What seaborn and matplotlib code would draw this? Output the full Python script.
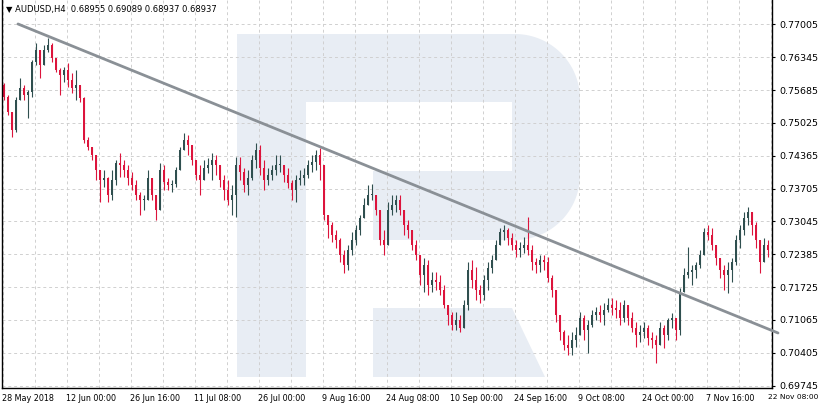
import numpy as np
import pandas as pd
import matplotlib
matplotlib.use("Agg")
import matplotlib.pyplot as plt
from matplotlib.patches import Polygon
import seaborn as sns

# ---------------- data ----------------
title_text = "\u25bc AUDUSD,H4  0.68955 0.69089 0.68937 0.68937"
bars_per_candle = 4
first_open = 0.7579

highs = [
    0.7583, 0.7559, 0.7518, 0.7555, 0.7593, 0.7579, 0.7569, 0.7629, 0.7663, 0.7649,
    0.7659, 0.7673, 0.7663, 0.7629, 0.7613, 0.7615, 0.7623, 0.7603, 0.7609, 0.7573,
    0.7555, 0.7474, 0.7454, 0.7438, 0.7408, 0.7408, 0.7394, 0.7408, 0.7428, 0.7442,
    0.7428, 0.7418, 0.7404, 0.7388, 0.7364, 0.7358, 0.7408, 0.7388, 0.7358, 0.7422,
    0.7418, 0.7392, 0.7388, 0.7414, 0.7454, 0.7482, 0.7478, 0.7454, 0.7428, 0.7418,
    0.7428, 0.7432, 0.7442, 0.7438, 0.7418, 0.7398, 0.7388, 0.7378, 0.7434, 0.7434,
    0.7412, 0.7408, 0.7438, 0.7462, 0.7458, 0.7428, 0.7412, 0.7418, 0.7438, 0.7438,
    0.7418, 0.7412, 0.7388, 0.7398, 0.7408, 0.7412, 0.7428, 0.7438, 0.7448, 0.7452,
    0.7418, 0.7318, 0.7304, 0.7287, 0.7271, 0.7247, 0.7257, 0.7283, 0.7297, 0.7318,
    0.7352, 0.7378, 0.7380, 0.7358, 0.7328, 0.7287, 0.7344, 0.7358, 0.7358, 0.7358,
    0.7318, 0.7308, 0.7287, 0.7267, 0.7237, 0.7231, 0.7227, 0.7203, 0.7203, 0.7197,
    0.7177, 0.7137, 0.7123, 0.7123, 0.7117, 0.7147, 0.7223, 0.7227, 0.7213, 0.7177,
    0.7197, 0.7223, 0.7237, 0.7267, 0.7291, 0.7297, 0.7291, 0.7281, 0.7267, 0.7263,
    0.7273, 0.7314, 0.7257, 0.7231, 0.7237, 0.7237, 0.7233, 0.7197, 0.7167, 0.7111,
    0.7086, 0.7076, 0.7082, 0.7092, 0.7123, 0.7117, 0.7107, 0.7127, 0.7133, 0.7137,
    0.7141, 0.7151, 0.7151, 0.7147, 0.7143, 0.7147, 0.7137, 0.7123, 0.7103, 0.7096,
    0.7103, 0.7096, 0.7082, 0.7076, 0.7103, 0.7096, 0.7111, 0.7121, 0.7107, 0.7171,
    0.7211, 0.7253, 0.7217, 0.7223, 0.7247, 0.7291, 0.7297, 0.7291, 0.7257, 0.7231,
    0.7217, 0.7223, 0.7231, 0.7277, 0.7297, 0.7324, 0.7334, 0.7324, 0.7304, 0.7257,
    0.7271, 0.7267,
]

lows = [
    0.7549, 0.7518, 0.7474, 0.7484, 0.7549, 0.7549, 0.7512, 0.7555, 0.7619, 0.7593,
    0.7619, 0.7645, 0.7625, 0.7605, 0.7559, 0.7585, 0.7575, 0.7563, 0.7549, 0.7545,
    0.7462, 0.7448, 0.7428, 0.7388, 0.7344, 0.7374, 0.7344, 0.7348, 0.7378, 0.7394,
    0.7394, 0.7378, 0.7368, 0.7348, 0.7318, 0.7328, 0.7362, 0.7348, 0.7308, 0.7338,
    0.7368, 0.7368, 0.7364, 0.7374, 0.7408, 0.7448, 0.7438, 0.7418, 0.7388, 0.7358,
    0.7394, 0.7402, 0.7388, 0.7398, 0.7374, 0.7348, 0.7338, 0.7318, 0.7314, 0.7388,
    0.7364, 0.7358, 0.7388, 0.7412, 0.7398, 0.7368, 0.7378, 0.7388, 0.7398, 0.7404,
    0.7384, 0.7372, 0.7348, 0.7344, 0.7378, 0.7378, 0.7392, 0.7404, 0.7408, 0.7388,
    0.7308, 0.7271, 0.7263, 0.7251, 0.7223, 0.7201, 0.7207, 0.7237, 0.7257, 0.7277,
    0.7312, 0.7338, 0.7348, 0.7318, 0.7257, 0.7237, 0.7267, 0.7318, 0.7324, 0.7318,
    0.7277, 0.7271, 0.7247, 0.7227, 0.7177, 0.7163, 0.7157, 0.7163, 0.7167, 0.7157,
    0.7131, 0.7096, 0.7086, 0.7086, 0.7082, 0.7090, 0.7127, 0.7171, 0.7147, 0.7141,
    0.7147, 0.7167, 0.7201, 0.7227, 0.7257, 0.7267, 0.7257, 0.7247, 0.7233, 0.7233,
    0.7241, 0.7237, 0.7207, 0.7201, 0.7203, 0.7207, 0.7183, 0.7153, 0.7103, 0.7066,
    0.7046, 0.7036, 0.7036, 0.7052, 0.7076, 0.7066, 0.7040, 0.7092, 0.7107, 0.7103,
    0.7096, 0.7123, 0.7117, 0.7111, 0.7096, 0.7103, 0.7096, 0.7082, 0.7052, 0.7062,
    0.7070, 0.7056, 0.7050, 0.7020, 0.7056, 0.7050, 0.7066, 0.7090, 0.7066, 0.7076,
    0.7163, 0.7191, 0.7177, 0.7191, 0.7211, 0.7237, 0.7267, 0.7247, 0.7217, 0.7191,
    0.7167, 0.7161, 0.7183, 0.7217, 0.7251, 0.7277, 0.7297, 0.7277, 0.7251, 0.7201,
    0.7223, 0.7233,
]

closes = [
    0.7555, 0.7525, 0.7488, 0.7549, 0.7573, 0.7559, 0.7565, 0.7625, 0.7649, 0.7619,
    0.7649, 0.7659, 0.7633, 0.7609, 0.7599, 0.7609, 0.7589, 0.7573, 0.7579, 0.7553,
    0.7468, 0.7454, 0.7438, 0.7408, 0.7388, 0.7392, 0.7358, 0.7388, 0.7422, 0.7418,
    0.7408, 0.7392, 0.7378, 0.7358, 0.7348, 0.7348, 0.7392, 0.7358, 0.7328, 0.7408,
    0.7384, 0.7378, 0.7380, 0.7408, 0.7448, 0.7468, 0.7458, 0.7428, 0.7398, 0.7388,
    0.7412, 0.7418, 0.7428, 0.7418, 0.7388, 0.7368, 0.7348, 0.7358, 0.7418, 0.7404,
    0.7378, 0.7392, 0.7428, 0.7448, 0.7412, 0.7388, 0.7398, 0.7408, 0.7418, 0.7418,
    0.7398, 0.7382, 0.7368, 0.7388, 0.7392, 0.7398, 0.7418, 0.7424, 0.7438, 0.7418,
    0.7318, 0.7297, 0.7277, 0.7267, 0.7237, 0.7217, 0.7247, 0.7267, 0.7287, 0.7312,
    0.7338, 0.7358, 0.7358, 0.7328, 0.7267, 0.7257, 0.7328, 0.7338, 0.7348, 0.7328,
    0.7297, 0.7287, 0.7257, 0.7237, 0.7197, 0.7217, 0.7177, 0.7187, 0.7183, 0.7167,
    0.7137, 0.7117, 0.7096, 0.7107, 0.7090, 0.7137, 0.7207, 0.7187, 0.7167, 0.7157,
    0.7187, 0.7211, 0.7227, 0.7257, 0.7283, 0.7287, 0.7271, 0.7257, 0.7247, 0.7251,
    0.7257, 0.7247, 0.7223, 0.7217, 0.7227, 0.7223, 0.7191, 0.7167, 0.7117, 0.7082,
    0.7056, 0.7050, 0.7066, 0.7076, 0.7111, 0.7086, 0.7096, 0.7117, 0.7123, 0.7117,
    0.7127, 0.7137, 0.7131, 0.7127, 0.7111, 0.7137, 0.7111, 0.7090, 0.7076, 0.7082,
    0.7090, 0.7070, 0.7066, 0.7056, 0.7090, 0.7076, 0.7107, 0.7111, 0.7086, 0.7163,
    0.7197, 0.7203, 0.7207, 0.7217, 0.7237, 0.7283, 0.7277, 0.7257, 0.7231, 0.7207,
    0.7197, 0.7207, 0.7223, 0.7267, 0.7287, 0.7312, 0.7324, 0.7297, 0.7267, 0.7223,
    0.7257, 0.7247,
]

x_tick_labels = ["28 May 2018", "12 Jun 00:00", "26 Jun 16:00", "11 Jul 08:00",
                 "26 Jul 00:00", "9 Aug 16:00", "24 Aug 08:00", "10 Sep 00:00",
                 "24 Sep 16:00", "9 Oct 08:00", "24 Oct 00:00", "7 Nov 16:00",
                 "22 Nov 08:00"]
bars_per_label = 64
price_ticks = [0.69745, 0.70405, 0.71065, 0.71725, 0.72385, 0.73045,
               0.73705, 0.74365, 0.75025, 0.75685, 0.76345, 0.77005]

trend_bars = [15.5, 775.5]
trend_prices = [0.77015, 0.70804]

# ---------------- style ----------------
sns.set_style("white")
plt.rcParams["font.family"] = ["DejaVu Sans"]

BULL = "#2f4f4f"
BEAR = "#dc143c"
WATERMARK = "#e8edf4"
GRID = "#d0d0d0"

W, H = 819, 411
fig = plt.figure(figsize=(W / 100, H / 100), dpi=100)
AX_L, AX_R, AX_T, AX_B = 2, 772, 0, 388
ax = fig.add_axes([AX_L / W, (H - AX_B) / H, (AX_R - AX_L) / W, (AX_B - AX_T) / H])

n = len(closes)
assert len(highs) == n and len(lows) == n
df = pd.DataFrame({"close": closes, "high": highs, "low": lows})
df["open"] = [first_open] + closes[:-1]
df["x"] = np.arange(n) * bars_per_candle + (bars_per_candle - 1) / 2
df["high"] = df[["high", "open", "close"]].max(axis=1)
df["low"] = df[["low", "open", "close"]].min(axis=1)
df["bull"] = df["close"] >= df["open"]

ax.set_xlim(-0.5, 769.5)
ax.set_ylim(0.69698, 0.77497)

# watermark "R" (drawn in axes pixel-space)
def to_ax(pts):
    return [((px - AX_L) / (AX_R - AX_L), (AX_B - py) / (AX_B - AX_T)) for px, py in pts]

def add_poly(pts):
    ax.add_patch(Polygon(to_ax(pts), closed=True, transform=ax.transAxes,
                         facecolor=WATERMARK, edgecolor="none", zorder=0))

add_poly([(237, 34), (306, 34), (306, 377), (237, 377)])           # stem
add_poly([(306, 34), (516, 34), (516, 102), (306, 102)])           # top bar
add_poly([(373, 171), (516, 171), (516, 240), (373, 240)])         # bowl bottom
add_poly([(373, 308), (512, 308), (545, 377), (373, 377)])         # leg
r = 65
t1 = np.linspace(-np.pi / 2, 0, 30)
t2 = np.linspace(0, np.pi / 2, 30)
bowl = [(512, 34)]
bowl += [(515 + r * np.cos(t), 99 + r * np.sin(t)) for t in t1]
bowl += [(515 + r * np.cos(t), 175 + r * np.sin(t)) for t in t2]
bowl += [(512, 240)]
add_poly(bowl)

# grid
for p in price_ticks:
    ax.axhline(p, color=GRID, lw=0.7, ls=(0, (3, 3)), zorder=1)
for b in range(0, 770, bars_per_label // 2):
    ax.axvline(b, color=GRID, lw=0.7, ls=(0, (3, 3)), zorder=1)

# candles
colors = np.where(df["bull"], BULL, BEAR)
ax.vlines(df["x"], df["low"], df["high"], colors=colors, lw=0.8, zorder=2)
body_bottom = df[["open", "close"]].min(axis=1)
body_h = (df["close"] - df["open"]).abs().clip(lower=0.00012)
ax.bar(df["x"], body_h, bottom=body_bottom, width=2.2, color=colors,
       linewidth=0, zorder=2.5)

# trend line
sns.lineplot(x=trend_bars, y=trend_prices, ax=ax, color="#8a9096", lw=2.0,
             clip_on=False, zorder=3, legend=False)

# axes styling
for s in ["left", "right", "bottom"]:
    ax.spines[s].set_visible(True)
    ax.spines[s].set_color("black")
    ax.spines[s].set_linewidth(1.0)
ax.spines["top"].set_visible(False)

ax.yaxis.tick_right()
ax.set_yticks(price_ticks)
ax.set_yticklabels([f"{p:.5f}" for p in price_ticks])
ax.tick_params(axis="y", which="both", direction="out", length=2.5, width=0.8,
               pad=3, labelsize=6.8, colors="black", left=False, right=True)

xt = [i * bars_per_label for i in range(len(x_tick_labels))]
ax.set_xticks(xt)
ax.set_xticklabels(x_tick_labels[:-1] + [""])
ax.tick_params(axis="x", direction="out", length=3, width=0.8, pad=1.5,
               labelsize=5.8, colors="black")
for lab in ax.get_xticklabels():
    lab.set_horizontalalignment("left")
# last label placed so it stays inside the picture
fig.text(768.5 / W, 1 - 394.3 / H, x_tick_labels[-1], ha="left", va="top",
         fontsize=5.4, color="black")

ax.set_xlabel("")
ax.set_ylabel("")
ax.set_facecolor("white")

fig.text(6 / W, 1 - 9.5 / H, title_text, ha="left", va="center",
         fontsize=6, color="black")

fig.savefig("out.png", dpi=100)
